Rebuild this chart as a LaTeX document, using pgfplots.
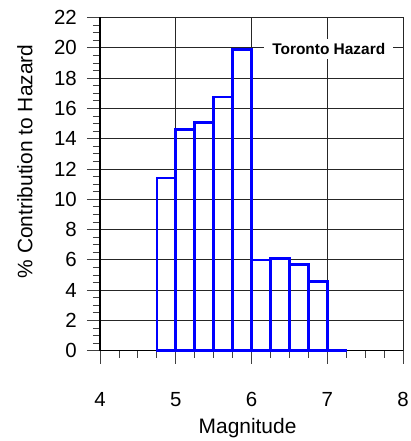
\documentclass[border=0pt]{standalone}
\usepackage{fontspec}
\setmainfont{Liberation Sans}
\usepackage{pgfplots}
\pgfplotsset{compat=1.18}

\begin{document}
\begin{tikzpicture}
\path[use as bounding box] (-100bp,-90.3bp) rectangle (311bp,350.7bp);
\begin{axis}[
    width=303bp, height=333.2bp,
    scale only axis,
    xmin=4, xmax=8,
    ymin=0, ymax=22,
    xtick={4,5,6,7,8},
    ytick={0,2,...,22},
    minor x tick num=3,
    minor y tick num=3,
    axis x line=bottom,
    axis y line=left,
    axis line style={black, line width=1.4bp, -},
    tick align=outside,
    major tick length=13bp,
    minor tick length=7bp,
    every tick/.style={black!75, line width=0.8bp},
    grid=major,
    grid style={black!85, line width=0.7bp},
    /pgf/number format/assume math mode=true,
    ticklabel style={font=\fontsize{20.5}{22}\selectfont, inner sep=0pt},
    xticklabel style={anchor=base, yshift=-43bp},
    yticklabel style={anchor=east, xshift=-10bp},
    xlabel={Magnitude},
    ylabel={\% Contribution to Hazard},
    label style={font=\fontsize{21}{23}\selectfont, inner sep=0pt},
    xlabel style={at={(axis description cs:0.487,-0.247)}, anchor=base},
    ylabel style={at={(axis description cs:-0.2475,0.568)}, anchor=center},
    clip=false,
]
\addplot[ybar interval, draw=blue, line width=2.6bp, fill=none] coordinates {
    (4.75,11.4) (5.00,14.6) (5.25,15.05) (5.50,16.75) (5.75,19.9)
    (6.00,6.0) (6.25,6.1) (6.50,5.7) (6.75,4.55) (7.00,0.05) (7.25,0.05)
};
\node[fill=white, inner xsep=8bp, inner ysep=4.5bp,
      font=\bfseries\fontsize{15.5}{17}\selectfont]
    at (axis cs:7.02,19.9) {Toronto Hazard};
\end{axis}
\end{tikzpicture}
\end{document}
